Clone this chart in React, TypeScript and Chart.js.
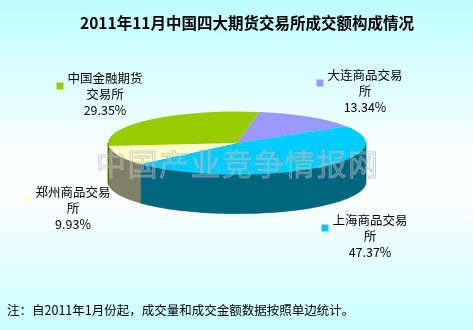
import React, { useEffect, useRef } from "react";
import { Chart, registerables } from "chart.js";

Chart.register(...registerables);

const title = "2011年11月中国四大期货交易所成交额构成情况";
const footnote = "注：自2011年1月份起，成交量和成交金额数据按照单边统计。";
const watermark = "中国产业竞争情报网";
const categories = ["大连商品交易所", "上海商品交易所", "郑州商品交易所", "中国金融期货交易所"];
const labelLines = [
  ["大连商品交易", "所"],
  ["上海商品交易", "所"],
  ["郑州商品交易", "所"],
  ["中国金融期货", "交易所"],
];
const shares = [13.34, 47.37, 9.93, 29.35];
const topColors = ["#9999FF", "#00CCFF", "#FFFFCC", "#99CC00"];
const sideColors = ["#4C4C80", "#006680", "#808066", "#4C6600"];

// layout-only constants
const W = 473;
const H = 330;
const K = 0.245; // vertical squash of the pie
const DEPTH = 39; // extrusion depth
const labelAnchors = [
  { x: 365, y: 75 },
  { x: 370, y: 220 },
  { x: 73, y: 192 },
  { x: 105, y: 78 },
];
const CJK = "'Noto Sans CJK SC', 'DejaVu Sans', sans-serif";

const pie3d = {
  id: "pie3d",
  beforeDraw(chart: any) {
    const ctx = chart.ctx;
    ctx.save();
    const g = ctx.createLinearGradient(0, 0, 0, H);
    g.addColorStop(0, "#BDFDFF");
    g.addColorStop(0.5, "#FFFFFF");
    g.addColorStop(0.62, "#FAFDFF");
    g.addColorStop(1, "#C8FFFF");
    ctx.fillStyle = g;
    ctx.fillRect(0, 0, chart.width, chart.height);
    ctx.restore();
  },
  beforeDatasetsDraw(chart: any) {
    const ctx = chart.ctx;
    const meta = chart.getDatasetMeta(0);
    ctx.save();
    meta.data.forEach((arc: any, i: number) => {
      const p = arc.getProps(["x", "y", "startAngle", "endAngle", "outerRadius"], true);
      const cx = p.x, cy = p.y, R = p.outerRadius;
      for (let n = -1; n <= 2; n++) {
        const lo = Math.max(p.startAngle, n * 2 * Math.PI);
        const hi = Math.min(p.endAngle, n * 2 * Math.PI + Math.PI);
        if (hi <= lo) continue;
        ctx.beginPath();
        ctx.ellipse(cx, cy, R, R * K, 0, lo, hi, false);
        ctx.ellipse(cx, cy + DEPTH, R, R * K, 0, hi, lo, true);
        ctx.closePath();
        ctx.fillStyle = sideColors[i];
        ctx.fill();
        ctx.strokeStyle = sideColors[i];
        ctx.lineWidth = 0.8;
        ctx.stroke();
      }
    });
    const first = meta.data[0];
    const cy0 = first ? first.y : 0;
    ctx.translate(0, cy0 - K * cy0);
    ctx.scale(1, K);
  },
  afterDatasetsDraw(chart: any) {
    const ctx = chart.ctx;
    ctx.restore();
    // watermark
    ctx.save();
    ctx.font = `30px ${CJK}`;
    ctx.textAlign = "left";
    ctx.textBaseline = "middle";
    const startX = 96;
    const step = 31.5;
    for (let i = 0; i < watermark.length; i++) {
      const ch = watermark[i];
      ctx.fillStyle = "rgba(255,255,255,0.22)";
      ctx.fillText(ch, startX + i * step, 164);
      ctx.strokeStyle = "rgba(170,170,170,0.6)";
      ctx.lineWidth = 1;
      ctx.strokeText(ch, startX + i * step, 164);
    }
    ctx.restore();
  },
  afterDraw(chart: any) {
    const ctx = chart.ctx;
    ctx.save();
    // title
    ctx.fillStyle = "#000000";
    ctx.font = `bold 15.5px ${CJK}`;
    ctx.textAlign = "center";
    ctx.textBaseline = "middle";
    ctx.fillText(title, 247, 23);
    // labels
    ctx.font = `12.5px ${CJK}`;
    labelLines.forEach((lines, i) => {
      const a = labelAnchors[i];
      const all = [...lines, shares[i].toFixed(2) + "%"];
      ctx.fillStyle = "#000000";
      ctx.textAlign = "center";
      all.forEach((t, j) => ctx.fillText(t, a.x, a.y + j * 16));
      const w = ctx.measureText(lines[0]).width;
      const mx = a.x - w / 2 - 3 - 8;
      ctx.fillStyle = topColors[i];
      ctx.fillRect(mx, a.y + 4.5, 7, 7);
    });
    // footnote
    ctx.fillStyle = "#000000";
    ctx.font = `12.5px ${CJK}`;
    ctx.textAlign = "left";
    ctx.fillText(footnote, 7, 310);
    ctx.restore();
  },
};

export default function App() {
  const ref = useRef<HTMLCanvasElement>(null);
  useEffect(() => {
    if (!ref.current) return;
    const chart = new Chart(ref.current, {
      type: "pie",
      data: {
        labels: categories,
        datasets: [
          {
            data: shares,
            backgroundColor: topColors,
            borderWidth: 0,
            clip: false as any,
          },
        ],
      },
      options: {
        animation: false,
        responsive: false,
        rotation: 10,
        layout: { padding: { left: 108, right: 107, top: 14, bottom: 58 } },
        plugins: {
          legend: { display: false },
          tooltip: { enabled: false },
          title: { display: false },
        },
      },
      plugins: [pie3d],
    });
    return () => chart.destroy();
  }, []);
  return (
    <div style={{ position: "fixed", left: 0, top: 0, width: W, height: H }}>
      <canvas ref={ref} width={W} height={H} style={{ width: W, height: H, display: "block" }} />
    </div>
  );
}
